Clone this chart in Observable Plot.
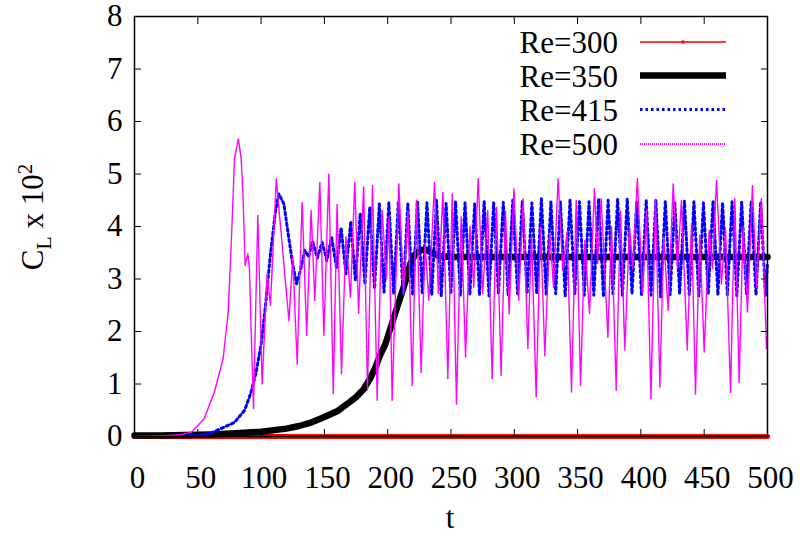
<!DOCTYPE html>
<html><head><meta charset="utf-8">
<script src="https://cdn.jsdelivr.net/npm/d3@7"></script>
<script src="https://cdn.jsdelivr.net/npm/@observablehq/plot@0.6"></script>
<style>body{margin:0;background:#fff}</style>
</head><body><div id="chart"></div>
<script>
const xTicks = [0, 50, 100, 150, 200, 250, 300, 350, 400, 450, 500];
const yTicks = [0, 1, 2, 3, 4, 5, 6, 7, 8];
const seriesNames = ["Re=300", "Re=350", "Re=415", "Re=500"];
const seriesColors = ["#ff0000", "#000000", "#0000ff", "#ff00ff"];

// Re=300
const re300T = [0, 125, 250, 375, 500];
const re300V = [0, 0, 0, 0, 0];

// Re=350
const re350T = [0, 20, 40, 60, 80, 100, 120, 130, 140, 150, 160, 168, 175, 181, 186, 190, 194, 198, 202, 206, 210, 214, 218, 222, 226, 230, 235, 240, 250, 500];
const re350V = [0.02, 0.02, 0.03, 0.04, 0.06, 0.09, 0.15, 0.2, 0.27, 0.37, 0.48, 0.62, 0.75, 0.9, 1.1, 1.3, 1.55, 1.75, 2.05, 2.35, 2.65, 2.95, 3.3, 3.48, 3.55, 3.56, 3.5, 3.44, 3.42, 3.42];

// Re=415 : onset and growth
const re415EarlyT = [0, 20, 40, 50, 60, 71, 79, 87, 92, 96, 100, 103.5, 107.4, 111.4, 114, 118, 120.6, 124.5, 128, 131, 134.5, 137.5, 140.6, 144.4, 148.2, 151.9, 155.7, 159.5, 163.2, 167.0, 170.8, 174.5, 178.3, 182.0, 185.8, 189.6, 193.4, 197.1];
const re415EarlyV = [0, 0, 0.01, 0.02, 0.06, 0.18, 0.27, 0.5, 0.84, 1.22, 1.75, 2.5, 3.48, 4.3, 4.62, 4.43, 3.99, 3.35, 2.91, 3.16, 3.55, 3.42, 3.72, 3.4, 3.7, 3.35, 3.8, 3.22, 3.98, 3.1, 4.1, 2.97, 4.25, 2.9, 4.37, 2.82, 4.43, 2.75];
// Re=415 : saturated oscillation, maxima and minima
const re415PeakT = [200.9, 208.4, 215.9, 223.5, 231.0, 238.5, 246.1, 253.6, 261.1, 268.7,
  276.2, 283.7, 291.3, 298.8, 306.3, 313.9, 321.4, 328.9, 336.4, 344.0,
  351.5, 359.0, 366.6, 374.1, 381.6, 389.2, 396.7, 404.2, 411.8, 419.3,
  426.8, 434.4, 441.9, 449.4, 457.0, 464.5, 472.0, 479.6, 487.1, 494.6];
const re415PeakV = [4.45, 4.47, 4.43, 4.48, 4.45, 4.50, 4.44, 4.47, 4.45, 4.43,
  4.48, 4.45, 4.46, 4.50, 4.47, 4.45, 4.53, 4.47, 4.47, 4.50,
  4.47, 4.47, 4.53, 4.50, 4.52, 4.53, 4.47, 4.50, 4.50, 4.47,
  4.45, 4.48, 4.47, 4.45, 4.49, 4.45, 4.47, 4.46, 4.48, 4.47];
const re415TroughT = [204.7, 212.2, 219.7, 227.3, 234.8, 242.3, 249.9, 257.4, 264.9, 272.5,
  280.0, 287.5, 295.1, 302.6, 310.1, 317.7, 325.2, 332.7, 340.2, 347.8,
  355.3, 362.8, 370.4, 377.9, 385.4, 393.0, 400.5, 408.0, 415.6, 423.1,
  430.6, 438.2, 445.7, 453.2, 460.8, 468.3, 475.8, 483.4, 490.9, 498.4];
const re415TroughV = [2.72, 2.70, 2.69, 2.72, 2.70, 2.68, 2.72, 2.69, 2.71, 2.70,
  2.68, 2.72, 2.70, 2.72, 2.72, 2.72, 2.70, 2.72, 2.68, 2.72,
  2.69, 2.69, 2.66, 2.72, 2.69, 2.72, 2.69, 2.69, 2.66, 2.70,
  2.72, 2.70, 2.68, 2.72, 2.70, 2.70, 2.68, 2.72, 2.70, 2.68];
const re415EndT = [500];
const re415EndV = [3.3];

// Re=500
const re500T = [0, 20, 35, 45, 55, 63, 70, 74, 76.5, 79, 82, 84.3, 85.6, 87.4, 89.5, 90.8, 92, 94, 97.4, 100.8, 104.8, 107.4, 112, 122, 125, 128.5, 132.4, 136, 139.5, 142.4, 146.4, 149.6, 153.5, 157, 160, 163.5, 167, 170.6, 174, 177, 181, 184, 188, 191.7, 195.6, 199, 201, 203.5, 208.8, 212.5, 216, 219.3, 222.7, 226.4, 229.5, 232.5, 237, 240, 243.6, 247.5, 251, 254.3, 258, 261.5, 265, 268, 271.5, 275, 279, 282.5, 286, 289.6, 293, 296, 299.7, 303.5, 307, 310.7, 313.6, 317.3, 320.7, 324.1, 328, 331, 334.6, 338.3, 341.7, 345.2, 348.9, 352.3, 355.7, 359.4, 363.3, 365.8, 368.6, 373.9, 376.8, 380.5, 383.9, 387.3, 391, 393.6, 397.2, 401.3, 404.4, 407.9, 411.5, 415, 418, 421.5, 425.5, 428.9, 432, 436.6, 440, 443.1, 446.5, 450, 453.9, 456.6, 459.7, 463.6, 466.8, 470.8, 474.2, 477.6, 480.7, 484.2, 488.1, 491.3, 495.2, 499.2, 500];
const re500V = [0, 0.01, 0.03, 0.08, 0.34, 0.84, 1.48, 2.37, 3.7, 5.29, 5.67, 5.29, 4.65, 3.26, 3.48, 3.19, 2.11, 0.53, 4.21, 1.0, 3.1, 2.5, 4.91, 2.2, 3.42, 1.38, 4.46, 1.92, 4.3, 2.59, 4.84, 1.92, 5.0, 0.81, 4.43, 1.19, 3.8, 2.65, 4.84, 2.34, 4.75, 0.88, 4.78, 0.69, 4.3, 3.0, 4.2, 0.69, 4.81, 2.72, 4.3, 0.97, 4.5, 1.22, 3.67, 2.59, 4.84, 2.72, 4.65, 1.1, 4.62, 0.62, 4.18, 1.51, 4.0, 2.84, 4.91, 2.72, 4.3, 1.1, 4.37, 1.16, 4.3, 2.34, 4.72, 2.59, 4.53, 1.67, 3.8, 0.75, 3.99, 1.54, 3.87, 2.84, 4.91, 3.16, 3.9, 0.84, 4.5, 0.97, 3.73, 2.34, 4.72, 3.3, 4.53, 1.89, 3.99, 0.88, 4.3, 1.64, 3.99, 3.2, 4.91, 2.72, 4.3, 0.72, 4.5, 0.94, 3.8, 2.4, 4.81, 3.2, 4.5, 1.64, 4.05, 0.81, 3.84, 1.61, 3.93, 3.2, 4.88, 2.9, 3.96, 0.84, 4.53, 1.03, 3.99, 2.37, 4.78, 2.84, 4.53, 1.67, 1.9];

// ---- build tables ----
const zip = (T, V) => T.map((t, i) => ({t, v: V[i]}));
const d300 = zip(re300T, re300V);
const d350 = zip(re350T, re350V);
const d415 = [
  ...zip(re415EarlyT, re415EarlyV),
  ...re415PeakT.flatMap((t, i) => [{t, v: re415PeakV[i]}, {t: re415TroughT[i], v: re415TroughV[i]}]),
  ...zip(re415EndT, re415EndV)
];
const d500 = zip(re500T, re500V);

const FONT = '"Liberation Serif", "Times New Roman", Tinos, serif';
const styles = [
  {stroke: seriesColors[0], strokeWidth: 5, legendWidth: 1.5, dash: null},
  {stroke: seriesColors[1], strokeWidth: 6.5, legendWidth: 6.5, dash: null},
  {stroke: seriesColors[2], strokeWidth: 3, legendWidth: 3, dash: "2.5,3"},
  {stroke: seriesColors[3], strokeWidth: 1.5, legendWidth: 2, dash: "1,1"}
];
const datasets = [d300, d350, d415, d500];

const plot = Plot.plot({
  width: 800, height: 543,
  marginLeft: 134, marginRight: 33, marginTop: 16, marginBottom: 107,
  x: {domain: [0, 500]},
  y: {domain: [0, 8]},
  style: {fontFamily: FONT, fontSize: "31px", color: "#000", background: "#fff"},
  marks: [
    ...datasets.map((d, i) => Plot.line(d, {
      x: "t", y: "v", stroke: styles[i].stroke, strokeWidth: styles[i].strokeWidth,
      strokeDasharray: styles[i].dash
    })),
    Plot.frame({stroke: "#000", strokeWidth: 1.5}),
    Plot.axisX({ticks: xTicks, tickSize: 0, tickPadding: 29, dx: 3, label: null, fontSize: 31}),
    Plot.axisX({ticks: xTicks, tickSize: 7, dy: -7, tickFormat: () => "", label: null}),
    Plot.axisX({ticks: xTicks, anchor: "top", tickSize: 7, dy: 7, tickFormat: () => "", label: null}),
    Plot.axisY({ticks: yTicks, tickSize: 0, tickPadding: 12, label: null, fontSize: 31}),
    Plot.axisY({ticks: yTicks, tickSize: 7, dx: 7, tickFormat: () => "", label: null}),
    Plot.axisY({ticks: yTicks, anchor: "right", tickSize: 7, dx: -7, tickFormat: () => "", label: null})
  ]
});
document.getElementById("chart").appendChild(plot);

// ---- annotations: axis titles and legend ----
const svg = d3.select(plot);
const yl = svg.append("text")
  .attr("transform", "translate(43,217) rotate(-90)")
  .attr("text-anchor", "middle")
  .attr("font-size", 31).attr("fill", "#000");
yl.append("tspan").text("C");
yl.append("tspan").attr("dy", 8).attr("font-size", 22).text("L");
yl.append("tspan").attr("dy", -8).text(" x 10");
yl.append("tspan").attr("dy", -11).attr("font-size", 21).text("2");

svg.append("text").attr("x", 450).attr("y", 528).attr("text-anchor", "middle")
  .attr("font-size", 31).attr("fill", "#000").text("t");

const legRowY = [42, 75.5, 109.5, 144];
const lg = svg.append("g");
seriesNames.forEach((name, i) => {
  const y = legRowY[i];
  lg.append("text").attr("x", 618).attr("y", y + 11).attr("text-anchor", "end")
    .attr("font-size", 31).attr("fill", "#000").text(name);
  lg.append("line").attr("x1", 640).attr("x2", 726).attr("y1", y).attr("y2", y)
    .attr("stroke", styles[i].stroke).attr("stroke-width", styles[i].legendWidth)
    .attr("stroke-dasharray", styles[i].dash);
  if (i === 0) {
    lg.append("rect").attr("x", 681.5).attr("y", y - 1.5).attr("width", 3).attr("height", 3).attr("fill", styles[i].stroke);
  }
});
svg.selectAll("text, tspan").style("font-family", FONT);
</script>
</body></html>
